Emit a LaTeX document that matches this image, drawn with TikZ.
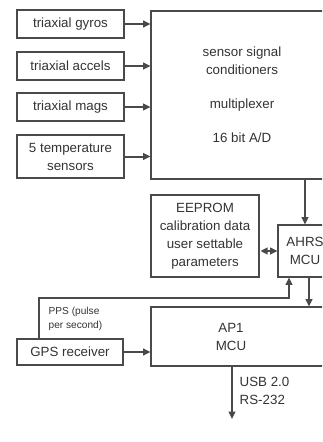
\documentclass[tikz,border=0pt]{standalone}
\usepackage{fontspec}
\setmainfont{Liberation Sans}
\usetikzlibrary{arrows.meta,positioning}
\definecolor{linegray}{HTML}{4A4A4A}
\definecolor{textgray}{HTML}{333333}
\begin{document}
\begin{tikzpicture}[
	x=0.75pt, y=-0.75pt,
	every node/.style={align=center, text=textgray, font=\fontsize{10}{13.5}\selectfont},
	block/.style={draw=linegray, line width=0.8pt, rectangle, inner sep=0pt},
	sensor/.style={block, minimum width=80.25pt, minimum height=21pt},
	arr/.style={draw=linegray, line width=1.5pt, -{Triangle[length=5.5pt,width=5pt]}},
	small/.style={font=\fontsize{7.6}{10.5}\selectfont}
	]

		\useasboundingbox (0,0) rectangle (322,442);
		\clip (0,0) rectangle (322,442);

		% Nodes
		\node[sensor] (gyros) at (70.5,24) {triaxial gyros};
		\node[sensor] (accels) at (70.5,66) {triaxial accels};
		\node[sensor] (mags) at (70.5,107) {triaxial mags};
		\node[sensor, minimum height=32.25pt] (temp) at (70.5,156.5) {5 temperature\\sensors};
		\node[block, minimum width=136.5pt, minimum height=126pt] (sig) at (242,95)
			{sensor signal\\conditioners\\[12pt]multiplexer\\[12pt]16 bit A/D};
		\node[block, line width=2pt, minimum width=81pt, minimum height=61.5pt] (eeprom) at (205,236)
			{EEPROM\\calibration data\\user settable\\parameters};
		\node[block, minimum width=40.5pt, minimum height=39pt] (ahrs) at (305,251) {AHRS\\MCU};
		\node[block, minimum width=142.5pt, minimum height=44.25pt] (ap1) at (246,336.5) {};
		\node (ap1txt) at (231,337) {AP1\\MCU};
		\node[sensor, minimum width=79.5pt, minimum height=19.5pt] (gps) at (70,352) {GPS receiver};
		\node[small, anchor=west, align=left] (pps) at (44,319) {PPS (pulse\\per second)};
		\node[anchor=west, align=left] (usb) at (235,391) {USB 2.0\\RS-232};
		\coordinate (pps1) at (39,298);
		\coordinate (pps2) at (289,298);
		\coordinate (usbend) at (232,419);

		% Connectors
		\foreach \s in {gyros,accels,mags,temp}
			\draw[arr] (\s.east) -- (sig.west |- \s.east);
		\draw[arr] (ahrs.north |- sig.south) -- (ahrs.north);
		\draw[draw=linegray, line width=1.5pt, {Triangle[length=5.5pt,width=5pt]}-{Triangle[length=5.5pt,width=5pt]}] (eeprom.east |- ahrs.west) -- (ahrs.west);
		\draw[arr] ([xshift=3pt]ahrs.south) -- ([xshift=3pt]ahrs.south |- ap1.north);
		\draw[arr] (gps.north -| pps1) -- (pps1) -- (pps2) -- (pps2 |- ahrs.south);
		\draw[arr] (gps.east) -- (gps.east -| ap1.west);
		\draw[arr] (usbend |- ap1.south) -- (usbend);
	\end{tikzpicture}
\end{document}
